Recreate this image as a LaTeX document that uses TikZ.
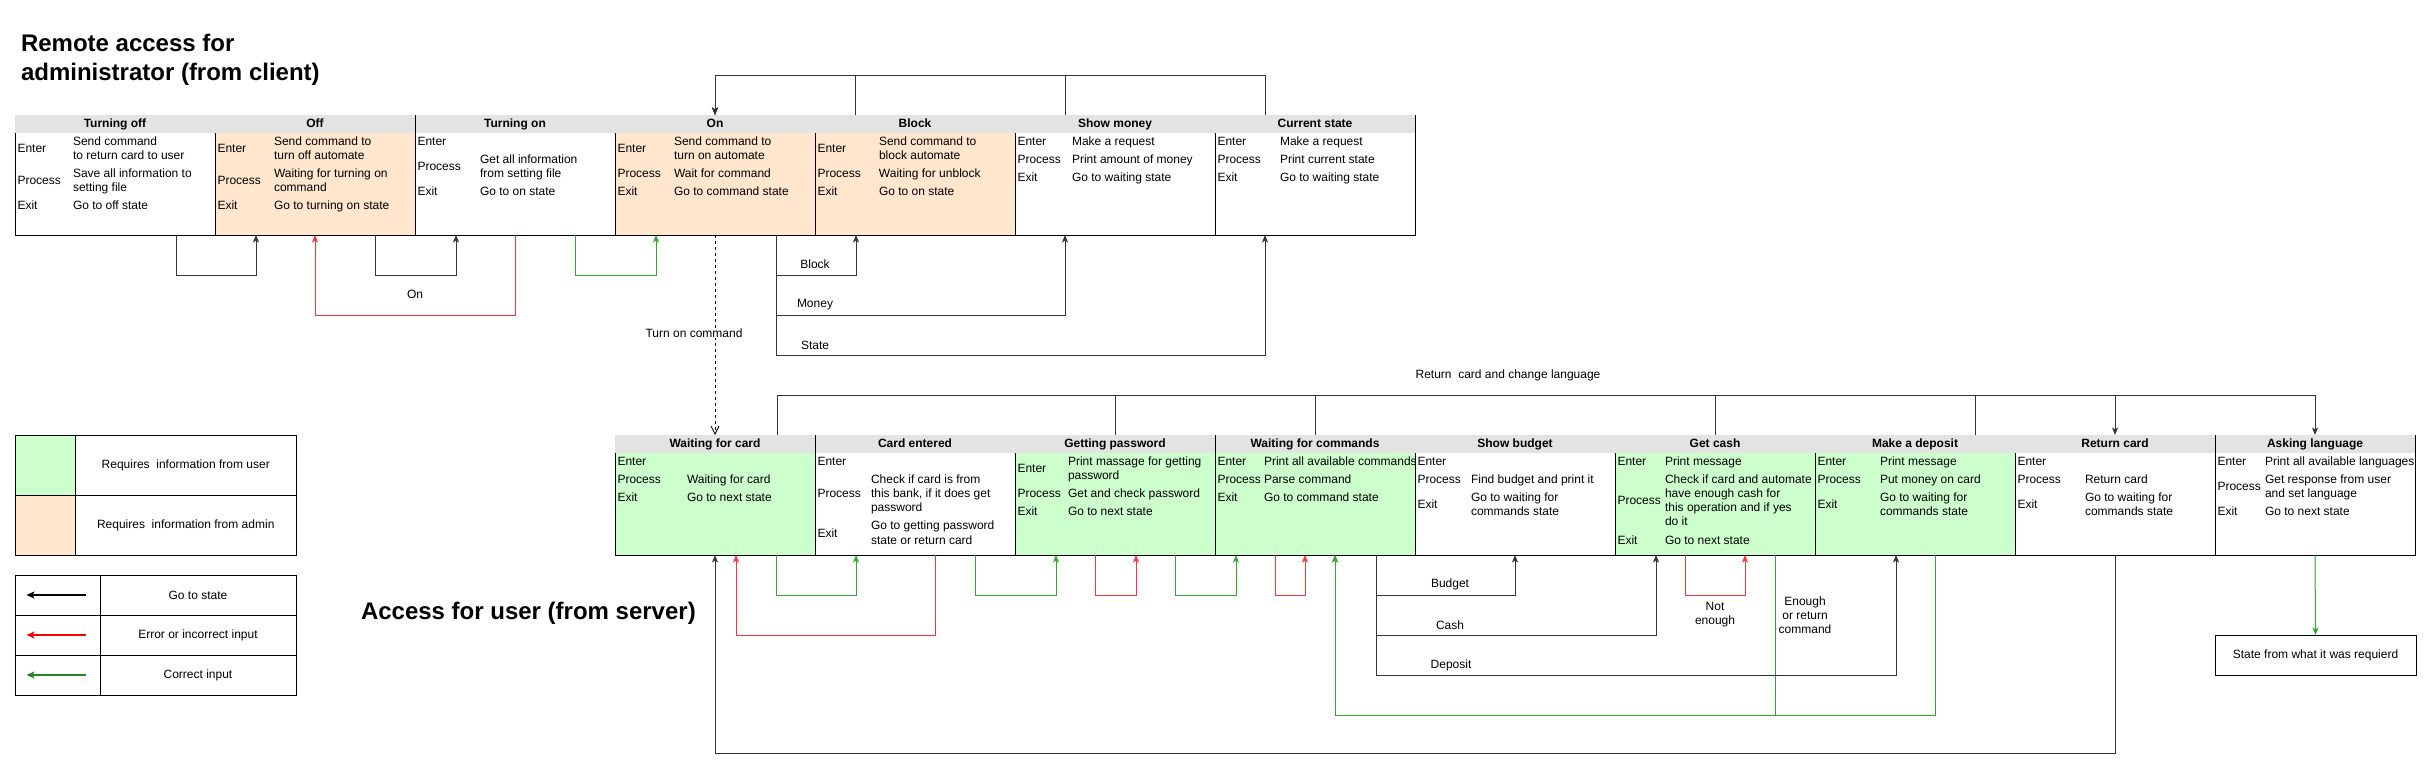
\documentclass[tikz,border=0pt]{standalone}
\usepackage{fontspec}
\setmainfont{Liberation Sans}
\usepackage{array}
\usetikzlibrary{arrows.meta,calc}
\definecolor{headgray}{HTML}{E3E3E3}
\definecolor{usergreen}{HTML}{CCFFCC}
\definecolor{adminorange}{HTML}{FFE6CC}
\definecolor{errred}{HTML}{FF3333}
\definecolor{okgreen}{HTML}{2EA82E}
\definecolor{linegray}{HTML}{333333}
\newcommand{\rg}{\\\noalign{\vskip 4bp}}
\newcommand{\sttab}[2]{\begin{tabular}{@{\hspace{2.5bp}}>{\raggedright\arraybackslash}m{#1}@{}>{\raggedright\arraybackslash}m{180bp}@{}}#2\end{tabular}}
\begin{document}
\begin{tikzpicture}[x=1bp,y=-1bp,
  every node/.style={inner sep=0pt, outer sep=0pt},
  hd/.style={anchor=north west, minimum width=200bp, minimum height=18bp, text height=9bp, text depth=2.5bp, fill=headgray, font=\fontsize{12bp}{14bp}\selectfont\bfseries},
  bd/.style={anchor=north west, minimum width=200bp, minimum height=102bp},
  cont/.style={anchor=north west, font=\fontsize{12bp}{14.2bp}\selectfont},
  bord/.style={draw=black, line width=1bp},
  myhead/.style={-{Stealth[length=7.5bp,width=6bp,inset=2bp]}},
  plain/.style={draw=linegray, line width=1bp},
  blk/.style={draw=linegray, line width=1bp, myhead},
  redc/.style={draw=errred, line width=1bp, myhead},
  grnc/.style={draw=okgreen, line width=1bp, myhead},
  lbl/.style={font=\fontsize{12bp}{14bp}\selectfont, align=center},
  legarrow/.style={line width=2.2bp, -{Stealth[length=8bp,width=7bp,inset=2bp]}},
  ttl/.style={font=\fontsize{24bp}{29bp}\selectfont\bfseries, align=left}
]
\useasboundingbox (0,0) rectangle (2431,779);

% titles
\node[ttl, anchor=north west] (title1) at (21,34) {Remote access for\\administrator (from client)};
\node[ttl, anchor=base west] (title2) at (361,619.3) {Access for user (from server)};

% ---------- top row ----------
\node[hd] (h1) at (15,115) {Turning off};
\node[hd] (h2) at (215,115) {Off};
\node[hd] (h3) at (415,115) {Turning on};
\node[hd] (h4) at (615,115) {On};
\node[hd] (h5) at (815,115) {Block};
\node[hd] (h6) at (1015,115) {Show money};
\node[hd] (h7) at (1215,115) {Current state};
\node[bd] (b1) at (15,133) {};
\node[bd, fill=adminorange] (b2) at (215,133) {};
\node[bd] (b3) at (415,133) {};
\node[bd, fill=adminorange] (b4) at (615,133) {};
\node[bd, fill=adminorange] (b5) at (815,133) {};
\node[bd] (b6) at (1015,133) {};
\node[bd] (b7) at (1215,133) {};

\node[cont] (c1) at ($(b1.north west)+(0,2.2)$) {\sttab{55.5bp}{Enter & Send command\newline to return card to user \rg Process & Save all information to\newline setting file \rg Exit & Go to off state}};
\node[cont] (c2) at ($(b2.north west)+(0,2.2)$) {\sttab{56.5bp}{Enter & Send command to\newline turn off automate \rg Process & Waiting for turning on\newline command \rg Exit & Go to turning on state}};
\node[cont] (c3) at ($(b3.north west)+(0,2.2)$) {\sttab{62.5bp}{Enter & \rg Process & Get all information\newline from setting file \rg Exit & Go to on state}};
\node[cont] (c4) at ($(b4.north west)+(0,2.2)$) {\sttab{56.5bp}{Enter & Send command to\newline turn on automate \rg Process & Wait for command \rg Exit & Go to command state}};
\node[cont] (c5) at ($(b5.north west)+(0,2.2)$) {\sttab{61.5bp}{Enter & Send command to\newline block automate \rg Process & Waiting for unblock \rg Exit & Go to on state}};
\node[cont] (c6) at ($(b6.north west)+(0,2.2)$) {\sttab{54.5bp}{Enter & Make a request \rg Process & Print amount of money \rg Exit & Go to waiting state}};
\node[cont] (c7) at ($(b7.north west)+(0,2.2)$) {\sttab{62.5bp}{Enter & Make a request \rg Process & Print current state \rg Exit & Go to waiting state}};

\draw[bord] (b1.north west) -- (b1.south west) -- (b7.south east) -- (h7.north east);
\draw[bord] (h2.north east) -- (b2.south east);
\foreach \n in {1,3,4,5,6} \draw[bord] (b\n.north east) -- (b\n.south east);

% ---------- bottom row ----------
\node[hd] (k1) at (615,435) {Waiting for card};
\node[hd] (k2) at (815,435) {Card entered};
\node[hd] (k3) at (1015,435) {Getting password};
\node[hd] (k4) at (1215,435) {Waiting for commands};
\node[hd] (k5) at (1415,435) {Show budget};
\node[hd] (k6) at (1615,435) {Get cash};
\node[hd] (k7) at (1815,435) {Make a deposit};
\node[hd] (k8) at (2015,435) {Return card};
\node[hd] (k9) at (2215,435) {Asking language};
\node[bd, fill=usergreen] (g1) at (615,453) {};
\node[bd] (g2) at (815,453) {};
\node[bd, fill=usergreen] (g3) at (1015,453) {};
\node[bd, fill=usergreen] (g4) at (1215,453) {};
\node[bd] (g5) at (1415,453) {};
\node[bd, fill=usergreen] (g6) at (1615,453) {};
\node[bd, fill=usergreen] (g7) at (1815,453) {};
\node[bd] (g8) at (2015,453) {};
\node[bd] (g9) at (2215,453) {};

\node[cont] (d1) at ($(g1.north west)+(0,2.2)$) {\sttab{69.5bp}{Enter & \rg Process & Waiting for card \rg Exit & Go to next state}};
\node[cont] (d2) at ($(g2.north west)+(0,2.2)$) {\sttab{53.5bp}{Enter & \rg Process & Check if card is from\newline this bank, if it does get\newline password \rg Exit & Go to getting password\newline state or return card}};
\node[cont] (d3) at ($(g3.north west)+(0,2.2)$) {\sttab{50.5bp}{Enter & Print massage for getting\newline password \rg Process & Get and check password \rg Exit & Go to next state}};
\node[cont] (d4) at ($(g4.north west)+(0,2.2)$) {\sttab{46.5bp}{Enter & Print all available commands \rg Process & Parse command \rg Exit & Go to command state}};
\node[cont] (d5) at ($(g5.north west)+(0,2.2)$) {\sttab{53.5bp}{Enter & \rg Process & Find budget and print it \rg Exit & Go to waiting for\newline commands state}};
\node[cont] (d6) at ($(g6.north west)+(0,2.2)$) {\sttab{47.5bp}{Enter & Print message \rg Process & Check if card and automate\newline have enough cash for\newline this operation and if yes\newline do it \rg Exit & Go to next state}};
\node[cont] (d7) at ($(g7.north west)+(0,2.2)$) {\sttab{62.5bp}{Enter & Print message \rg Process & Put money on card \rg Exit & Go to waiting for\newline commands state}};
\node[cont] (d8) at ($(g8.north west)+(0,2.2)$) {\sttab{67.5bp}{Enter & \rg Process & Return card \rg Exit & Go to waiting for\newline commands state}};
\node[cont] (d9) at ($(g9.north west)+(0,2.2)$) {\sttab{47.5bp}{Enter & Print all available languages \rg Process & Get response from user\newline and set language \rg Exit & Go to next state}};

\draw[bord] (g1.north west) -- (g1.south west) -- (g9.south east) -- (k9.north east);
\foreach \n in {1,3,8} \draw[bord] (k\n.north east) -- (g\n.south east);
\foreach \n in {2,4,5,6,7} \draw[bord] (g\n.north east) -- (g\n.south east);

% ---------- legend ----------
\node[anchor=north west, minimum width=60.5bp, minimum height=60bp, fill=usergreen] (lgA) at (15,435) {};
\node[anchor=north west, minimum width=220.5bp, minimum height=60bp, lbl] (ltA) at (75.5,435) {Requires\ \ information from user};
\node[anchor=north west, minimum width=60.5bp, minimum height=60bp, fill=adminorange] (lgB) at (15,495) {};
\node[anchor=north west, minimum width=220.5bp, minimum height=60bp, lbl] (ltB) at (75.5,495) {Requires\ \ information from admin};
\draw[bord] (lgA.north west) rectangle (ltB.south east);
\draw[bord] (lgA.south west) -- (ltA.south east);
\draw[bord] (lgA.north east) -- (lgB.south east);

\node[anchor=north west, minimum width=85bp, minimum height=40bp] (la1) at (15,575) {};
\node[anchor=north west, minimum width=196bp, minimum height=40bp, lbl] (lt1) at (100,575) {Go to state};
\node[anchor=north west, minimum width=85bp, minimum height=40bp] (la2) at (15,615) {};
\node[anchor=north west, minimum width=196bp, minimum height=40bp, lbl] (lt2) at (100,615) {Error or incorrect input};
\node[anchor=north west, minimum width=85bp, minimum height=40bp] (la3) at (15,655) {};
\node[anchor=north west, minimum width=196bp, minimum height=40bp, lbl] (lt3) at (100,655) {Correct input};
\draw[bord] (la1.north west) rectangle (lt3.south east);
\draw[bord] (la1.south west) -- (lt1.south east);
\draw[bord] (la2.south west) -- (lt2.south east);
\draw[bord] (la1.north east) -- (la3.south east);
\draw[legarrow, draw=black] ($(la1.east)+(-14,0)$) -- ($(la1.west)+(11.5,0)$);
\draw[legarrow, draw=red] ($(la2.east)+(-14,0)$) -- ($(la2.west)+(11.5,0)$);
\draw[legarrow, draw=okgreen!80!black] ($(la3.east)+(-14,0)$) -- ($(la3.west)+(11.5,0)$);

% state box
\node[anchor=north west, draw, line width=1bp, minimum width=201bp, minimum height=40bp, lbl] (st) at (2215,635) {State from what it was requierd};

% ---------- top connectors ----------
\draw[blk] ($(b1.south west)+(161,0)$) -- ++(0,40) -| ($(b2.south west)+(41,0)$);
\draw[blk] ($(b2.south west)+(160,0)$) -- ++(0,40) -| ($(b3.south west)+(41,0)$);
\draw[redc] (b3.south) -- ++(0,80) -| (b2.south);
\node[lbl] (lOn) at (415,294) {On};
\draw[grnc] ($(b3.south west)+(160,0)$) -- ++(0,40) -| ($(b4.south west)+(41,0)$);
\draw[blk] ($(b4.south west)+(161,0)$) -- ++(0,40) -| ($(b5.south west)+(41,0)$);
\draw[blk] ($(b4.south west)+(161,0)$) -- ++(0,80) -| ($(b6.south west)+(50,0)$);
\draw[blk] ($(b4.south west)+(161,0)$) -- ++(0,120) -| ($(b7.south west)+(50,0)$);
\node[lbl] (lBlock) at (815,264) {Block};
\node[lbl] (lMoney) at (815,305) {Money};
\node[lbl] (lState) at (815,345) {State};
\draw[blk] ($(h5.north west)+(40,0)$) -- ++(0,-40) -| (h4.north);
\draw[blk] ($(h6.north west)+(50,0)$) -- ++(0,-40) -| (h4.north);
\draw[blk] ($(h7.north west)+(50,0)$) -- ++(0,-40) -| (h4.north);
\draw[dash pattern=on 3bp off 3bp, draw=black, line width=0.8bp, -{Straight Barb[length=8bp,width=8bp]}] (b4.south) -- (k1.north);
\node[lbl, fill=white, inner sep=1bp] (lTurn) at (694,333) {Turn on command};

% ---------- bottom bus ----------
\draw[blk] ($(k1.north west)+(162,0)$) -- ++(0,-40) -| (k8.north);
\draw[blk] ($(k1.north west)+(162,0)$) -- ++(0,-40) -| (k9.north);
\draw[plain] (k3.north) -- ++(0,-40);
\draw[plain] (k4.north) -- ++(0,-40);
\draw[plain] (k6.north) -- ++(0,-40);
\draw[plain] ($(k7.north west)+(160,0)$) -- ++(0,-40);
\node[lbl] (lRet) at (1508,375) {Return\ \ card and change language};

% ---------- bottom connectors ----------
\draw[blk] (g8.south) -- ++(0,198) -| (g1.south);
\draw[redc] ($(g2.south west)+(120,0)$) -- ++(0,80) -| ($(g1.south west)+(121,0)$);
\draw[grnc] ($(g1.south west)+(161,0)$) -- ++(0,40) -| ($(g2.south west)+(41,0)$);
\draw[grnc] ($(g2.south west)+(160,0)$) -- ++(0,40) -| ($(g3.south west)+(41,0)$);
\draw[redc] ($(g3.south west)+(80,0)$) -- ++(0,40) -| ($(g3.south west)+(121,0)$);
\draw[grnc] ($(g3.south west)+(160,0)$) -- ++(0,40) -| ($(g4.south west)+(21,0)$);
\draw[redc] ($(g4.south west)+(60,0)$) -- ++(0,40) -| ($(g4.south west)+(90,0)$);
\draw[grnc] ($(g6.south west)+(160,0)$) -- ++(0,160) -| ($(g4.south west)+(120,0)$);
\draw[grnc] ($(g7.south west)+(120,0)$) -- ++(0,160) -| ($(g4.south west)+(120,0)$);
\draw[blk] ($(g4.south west)+(161,0)$) -- ++(0,40) -| (g5.south);
\draw[blk] ($(g4.south west)+(161,0)$) -- ++(0,80) -| ($(g6.south west)+(41,0)$);
\draw[blk] ($(g4.south west)+(161,0)$) -- ++(0,120) -| ($(g7.south west)+(81,0)$);
\draw[redc] ($(g6.south west)+(70,0)$) -- ++(0,40) -| ($(g6.south west)+(130,0)$);
\node[lbl] (lBudget) at (1450,584) {Budget};
\node[lbl] (lCash) at (1450,625) {Cash};
\node[lbl] (lDeposit) at (1451,665) {Deposit};
\node[lbl] (lNot) at (1715,615) {Not\\enough};
\node[lbl] (lEnough) at (1805,615) {Enough\\or return\\command};
\draw[grnc] (g9.south) -- (st.north);
\end{tikzpicture}
\end{document}
